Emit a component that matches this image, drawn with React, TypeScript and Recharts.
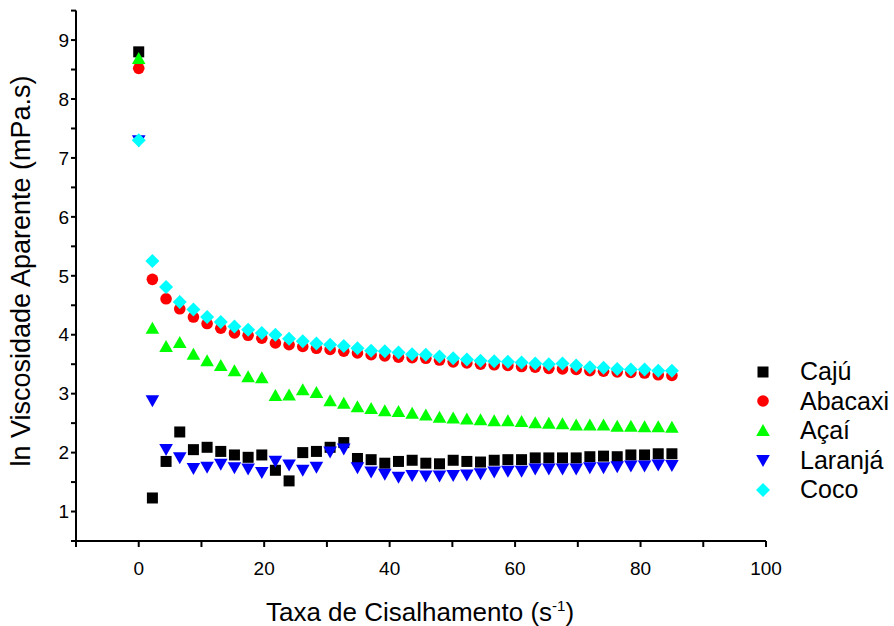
import React from 'react';
import { ScatterChart, Scatter, XAxis, YAxis } from 'recharts';

const shearRate = [0, 2.18, 4.36, 6.54, 8.72, 10.9, 13.08, 15.26, 17.44, 19.62, 21.79, 23.97, 26.15, 28.33, 30.51, 32.69, 34.87, 37.05, 39.23, 41.41, 43.59, 45.77, 47.95, 50.13, 52.31, 54.49, 56.67, 58.85, 61.03, 63.21, 65.38, 67.56, 69.74, 71.92, 74.1, 76.28, 78.46, 80.64, 82.82, 85];

const caju = [8.8, 1.23, 1.85, 2.35, 2.05, 2.09, 2.02, 1.96, 1.92, 1.96, 1.7, 1.52, 2.0, 2.02, 2.09, 2.17, 1.9, 1.88, 1.82, 1.85, 1.87, 1.82, 1.81, 1.87, 1.85, 1.84, 1.87, 1.88, 1.88, 1.91, 1.91, 1.91, 1.91, 1.93, 1.94, 1.93, 1.96, 1.96, 1.98, 1.98];
const abacaxi = [8.52, 4.94, 4.61, 4.44, 4.3, 4.19, 4.11, 4.03, 3.99, 3.94, 3.86, 3.83, 3.8, 3.77, 3.75, 3.72, 3.69, 3.66, 3.64, 3.62, 3.61, 3.6, 3.57, 3.54, 3.52, 3.5, 3.49, 3.48, 3.46, 3.45, 3.43, 3.42, 3.41, 3.39, 3.38, 3.37, 3.36, 3.35, 3.32, 3.31];
const acai = [8.68, 4.1, 3.79, 3.86, 3.66, 3.55, 3.47, 3.38, 3.28, 3.26, 2.96, 2.97, 3.06, 3.01, 2.87, 2.83, 2.77, 2.74, 2.7, 2.69, 2.66, 2.63, 2.59, 2.58, 2.56, 2.55, 2.53, 2.53, 2.52, 2.5, 2.49, 2.48, 2.46, 2.46, 2.46, 2.44, 2.44, 2.43, 2.43, 2.42];
const laranja = [7.3, 2.89, 2.06, 1.92, 1.74, 1.76, 1.81, 1.75, 1.73, 1.67, 1.86, 1.8, 1.71, 1.76, 2.02, 2.07, 1.75, 1.68, 1.64, 1.59, 1.62, 1.61, 1.61, 1.62, 1.63, 1.65, 1.68, 1.69, 1.69, 1.73, 1.73, 1.73, 1.73, 1.75, 1.75, 1.77, 1.78, 1.78, 1.8, 1.79];
const coco = [7.3, 5.25, 4.81, 4.555, 4.43, 4.3, 4.215, 4.14, 4.085, 4.03, 4.0, 3.93, 3.89, 3.85, 3.83, 3.81, 3.77, 3.73, 3.72, 3.7, 3.67, 3.66, 3.63, 3.6, 3.58, 3.56, 3.55, 3.54, 3.53, 3.51, 3.5, 3.51, 3.48, 3.45, 3.44, 3.42, 3.41, 3.41, 3.39, 3.39];

const xTicks = [-10, 0, 10, 20, 30, 40, 50, 60, 70, 80, 90, 100];
const yTicks = [0.5, 1, 1.5, 2, 2.5, 3, 3.5, 4, 4.5, 5, 5.5, 6, 6.5, 7, 7.5, 8, 8.5, 9, 9.5];

const FONT = "Arial, 'Liberation Sans', sans-serif";

const toPoints = (ys: number[]) => shearRate.map((x, i) => ({ x, y: ys[i] }));

type Kind = 'square' | 'circle' | 'up' | 'down' | 'diamond';

const Marker = ({ kind, cx, cy, color }: { kind: Kind; cx: number; cy: number; color: string }) => {
  if (kind === 'square') return <rect x={cx - 5.5} y={cy - 5.5} width={11} height={11} fill={color} />;
  if (kind === 'circle') return <circle cx={cx} cy={cy} r={5.8} fill={color} />;
  if (kind === 'up') return <polygon points={`${cx},${cy - 7} ${cx + 6.8},${cy + 5} ${cx - 6.8},${cy + 5}`} fill={color} />;
  if (kind === 'down') return <polygon points={`${cx},${cy + 7} ${cx + 6.8},${cy - 5} ${cx - 6.8},${cy - 5}`} fill={color} />;
  return <polygon points={`${cx},${cy - 7} ${cx + 7},${cy} ${cx},${cy + 7} ${cx - 7},${cy}`} fill={color} />;
};

const series: { name: string; data: number[]; color: string; kind: Kind }[] = [
  { name: 'Cajú', data: caju, color: '#000000', kind: 'square' },
  { name: 'Abacaxi', data: abacaxi, color: '#FF0000', kind: 'circle' },
  { name: 'Açaí', data: acai, color: '#00FF00', kind: 'up' },
  { name: 'Laranjá', data: laranja, color: '#0000FF', kind: 'down' },
  { name: 'Coco', data: coco, color: '#00FFFF', kind: 'diamond' },
];

const LegendBox = () => (
  <div style={{ position: 'absolute', left: 753, top: 357, fontFamily: FONT, fontSize: 25, color: '#000', lineHeight: '29.5px' }}>
    {series.map((s) => (
      <div key={s.name} style={{ display: 'flex', alignItems: 'center', height: 29.5 }}>
        <svg width={20} height={20} style={{ marginRight: 27 }}>
          <Marker kind={s.kind} cx={10} cy={10} color={s.color} />
        </svg>
        <span>{s.name}</span>
      </div>
    ))}
  </div>
);

export default function App() {
  return (
    <div style={{ position: 'absolute', left: 0, top: 0, width: 894, height: 626, background: '#fff' }}>
      <ScatterChart width={894} height={626} margin={{ top: 10.6, right: 128, bottom: 0, left: 0 }}>
        <XAxis
          type="number"
          dataKey="x"
          domain={[-10, 100]}
          ticks={xTicks}
          allowDataOverflow
          tickFormatter={(v: number) => (v >= 0 && v % 20 === 0 ? String(v) : '')}
          stroke="#000"
          strokeWidth={2}
          tickSize={6}
          tickMargin={15}
          height={85}
          tick={{ fill: '#000', fontSize: 19, fontFamily: FONT }}
          label={{
            content: () => (
              <text x={420} y={621} textAnchor="middle" fontSize={26} fontFamily={FONT} fill="#000">
                Taxa de Cisalhamento (s<tspan dy={-10} fontSize={15}>-1</tspan><tspan dy={10}>)</tspan>
              </text>
            ),
          }}
        />
        <YAxis
          type="number"
          dataKey="y"
          domain={[0.5, 9.5]}
          ticks={yTicks}
          allowDataOverflow
          tickFormatter={(v: number) => (Number.isInteger(v) ? String(v) : '')}
          stroke="#000"
          strokeWidth={2}
          tickSize={5}
          tickMargin={2}
          width={76}
          tick={{ fill: '#000', fontSize: 19, fontFamily: FONT }}
          label={{
            content: () => (
              <text x={30} y={271} textAnchor="middle" fontSize={27} fontFamily={FONT} fill="#000" transform="rotate(-90 30 271)">
                ln Viscosidade Aparente (mPa.s)
              </text>
            ),
          }}
        />
        {series.map((s) => (
          <Scatter
            key={s.name}
            name={s.name}
            data={toPoints(s.data)}
            fill={s.color}
            isAnimationActive={false}
            shape={(p: any) => <Marker kind={s.kind} cx={p.cx} cy={p.cy} color={s.color} />}
          />
        ))}
      </ScatterChart>
      <LegendBox />
    </div>
  );
}
